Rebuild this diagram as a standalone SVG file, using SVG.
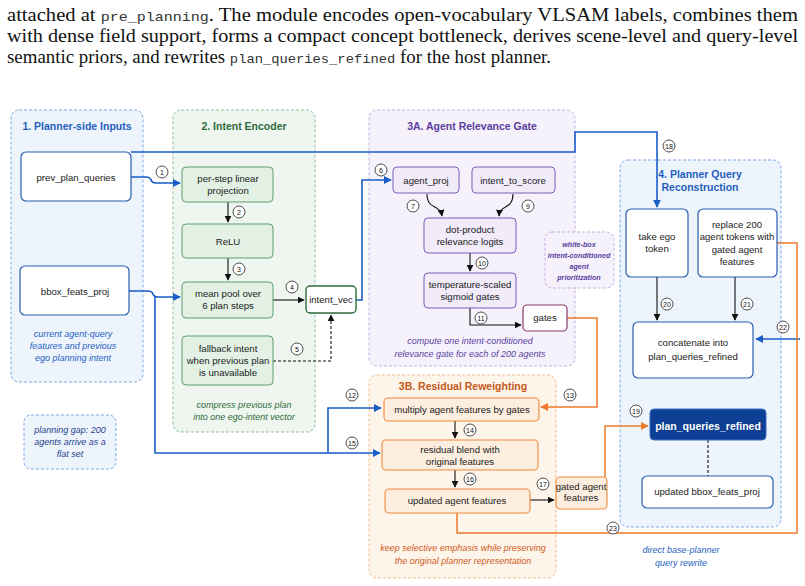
<svg xmlns="http://www.w3.org/2000/svg" width="805" height="586" viewBox="0 0 805 586">
<defs>
<marker id="ak" viewBox="0 0 10 10" refX="9" refY="5" markerWidth="7" markerHeight="7" orient="auto" markerUnits="userSpaceOnUse"><path d="M0,0 L10,5 L0,10 z" fill="#111"/></marker>
<marker id="ab" viewBox="0 0 10 10" refX="9" refY="5" markerWidth="8" markerHeight="8" orient="auto" markerUnits="userSpaceOnUse"><path d="M0,0 L10,5 L0,10 z" fill="#1a5cc8"/></marker>
<marker id="ao" viewBox="0 0 10 10" refX="9" refY="5" markerWidth="8" markerHeight="8" orient="auto" markerUnits="userSpaceOnUse"><path d="M0,0 L10,5 L0,10 z" fill="#ee7a2a"/></marker>
</defs>
<style>
.cap{font-family:"Liberation Serif","Times New Roman",serif;font-size:18.5px;fill:#111}
.mono{font-family:"Liberation Mono","Courier New",monospace;font-size:13.5px;fill:#333}
text{font-family:"Liberation Sans",Arial,sans-serif}
.t{font-size:9.6px;fill:#222;text-anchor:middle}
.ttl{font-size:10.5px;font-weight:bold;text-anchor:middle}
.it{font-size:9px;font-style:italic;text-anchor:middle}
.wb{font-size:7.2px;font-weight:bold;font-style:italic;text-anchor:middle;fill:#5b3ea0}
.pb{fill:#eef4fc;stroke:#6d9fe2;stroke-dasharray:3 2;stroke-width:0.9}
.pg{fill:#eef6ef;stroke:#86bb92;stroke-dasharray:3 2;stroke-width:0.9}
.pp{fill:#f6f2fc;stroke:#bca7e2;stroke-dasharray:3 2;stroke-width:0.9}
.po{fill:#fdf4ea;stroke:#f2b683;stroke-dasharray:3 2;stroke-width:0.9}
.bb{fill:#fff;stroke:#2a5db0;stroke-width:1.2}
.bg{fill:#e3f1e5;stroke:#5f9e6e;stroke-width:1}
.bp{fill:#f1ebfa;stroke:#7d5cb8;stroke-width:1}
.bo{fill:#fdeedf;stroke:#ee8a3c;stroke-width:1.1}
.ck{fill:none;stroke:#111;stroke-width:1.1}
.cb{fill:none;stroke:#1a5cc8;stroke-width:1.6}
.co{fill:none;stroke:#ee7a2a;stroke-width:1.5}
.num circle{fill:#fff;stroke:#222;stroke-width:0.8}
.num text{font-size:7px;fill:#111;text-anchor:middle}
</style>
<rect width="805" height="586" fill="#fff"/>
<g id="caption">
<text class="cap" x="7" y="21" textLength="791" lengthAdjust="spacingAndGlyphs">attached at <tspan class="mono">pre_planning</tspan>. The module encodes open-vocabulary VLSAM labels, combines them</text>
<text class="cap" x="7" y="42" textLength="791" lengthAdjust="spacingAndGlyphs">with dense field support, forms a compact concept bottleneck, derives scene-level and query-level</text>
<text class="cap" x="7" y="63" textLength="544" lengthAdjust="spacingAndGlyphs">semantic priors, and rewrites <tspan class="mono">plan_queries_refined</tspan> for the host planner.</text>
</g>
<g id="panel1">
<rect class="pb" x="11" y="110" width="132" height="272" rx="8"/>
<text class="ttl" x="77" y="130" fill="#1f5fbf">1. Planner-side Inputs</text>
<text class="it" x="73" y="337" fill="#1f5fbf">current agent-query</text>
<text class="it" x="73" y="349" fill="#1f5fbf">features and previous</text>
<text class="it" x="73" y="361" fill="#1f5fbf">ego planning intent</text>
</g>
<g id="panel_gap">
<rect class="pb" x="24" y="415" width="92" height="54" rx="7"/>
<text class="it" x="70" y="433" fill="#24408a">planning gap: 200</text>
<text class="it" x="70" y="445" fill="#24408a">agents arrive as a</text>
<text class="it" x="70" y="457" fill="#24408a">flat set</text>
</g>
<g id="panel2">
<rect class="pg" x="173" y="110" width="142" height="322" rx="8"/>
<text class="ttl" x="244" y="130" fill="#2e6b3a">2. Intent Encoder</text>
<text class="it" x="244" y="408" fill="#2e6b3a">compress previous plan</text>
<text class="it" x="244" y="420" fill="#2e6b3a">into one ego-intent vector</text>
</g>
<g id="panel3a">
<rect class="pp" x="369" y="110" width="206" height="256" rx="8"/>
<text class="ttl" x="472" y="130" fill="#5b3ea0">3A. Agent Relevance Gate</text>
<text class="it" x="470" y="344" fill="#5b3ea0">compute one intent-conditioned</text>
<text class="it" x="470" y="357" fill="#5b3ea0">relevance gate for each of 200 agents</text>
</g>
<g id="panel3b">
<rect class="po" x="369" y="375" width="187" height="203" rx="8"/>
<text class="ttl" x="463" y="390" fill="#c4581c">3B. Residual Reweighting</text>
<text class="it" x="463" y="551" fill="#d05a1a">keep selective emphasis while preserving</text>
<text class="it" x="463" y="564" fill="#d05a1a">the original planner representation</text>
</g>
<g id="panel4">
<rect class="pb" x="620" y="160" width="161" height="367" rx="8"/>
<text class="ttl" x="700" y="178" fill="#1f5fbf">4. Planner Query</text>
<text class="ttl" x="700" y="191" fill="#1f5fbf">Reconstruction</text>
<text class="it" x="681" y="553" fill="#1f5fbf">direct base-planner</text>
<text class="it" x="681" y="566" fill="#1f5fbf">query rewrite</text>
</g>
<g id="note_whitebox">
<rect class="pp" x="545" y="232" width="69" height="56" rx="7"/>
<text class="wb" x="579" y="247">white-box</text>
<text class="wb" x="579" y="258">intent-conditioned</text>
<text class="wb" x="579" y="269">agent</text>
<text class="wb" x="579" y="280">prioritization</text>
</g>
<g id="connectors">
<path class="cb" d="M131,152 H575 V132 H657 V207" marker-end="url(#ab)"/>
<path class="cb" d="M131,177 H146 Q150,177 151,180 Q152,183 156,183 H180" marker-end="url(#ab)"/>
<path class="cb" d="M129,291 H148 Q152,291 153,294 Q154,297 158,297 H180" marker-end="url(#ab)"/>
<path class="cb" d="M155,297 V453 H380" marker-end="url(#ab)"/>
<path class="cb" d="M328,453 V408 H381" marker-end="url(#ab)"/>
<path class="cb" d="M356,300 H362 V180 H391" marker-end="url(#ab)"/>
<path class="cb" d="M800,339 H756" marker-end="url(#ab)"/>
<path class="ck" d="M228,202 V222" marker-end="url(#ak)"/>
<path class="ck" d="M228,258 V280" marker-end="url(#ak)"/>
<path class="ck" d="M273,300 H304" marker-end="url(#ak)"/>
<path class="ck" d="M273,361 H331 V315" stroke-dasharray="3 2" marker-end="url(#ak)"/>
<path class="ck" d="M427,194 C427,210 440,204 442,216" marker-end="url(#ak)"/>
<path class="ck" d="M513,194 C513,210 500,204 499,216" marker-end="url(#ak)"/>
<path class="ck" d="M470,253 V271" marker-end="url(#ak)"/>
<path class="ck" d="M470,308 V325 H521" marker-end="url(#ak)"/>
<path class="ck" d="M455,421 V438" marker-end="url(#ak)"/>
<path class="ck" d="M455,470 V487" marker-end="url(#ak)"/>
<path class="ck" d="M530,500 H554" marker-end="url(#ak)"/>
<path class="ck" d="M657,277 V320" marker-end="url(#ak)"/>
<path class="ck" d="M735,277 V320" marker-end="url(#ak)"/>
<path class="ck" d="M708,440 V476" stroke="#2a4a8a" stroke-dasharray="3 2" stroke-width="0.9"/>
<path class="co" d="M567,318 H597 V407 H541" marker-end="url(#ao)"/>
<path class="co" d="M605,477 V426 H648" marker-end="url(#ao)"/>
<path class="co" d="M457,513 V533 H797 V243 H777"/>
</g>
<g id="prev_plan_queries"><rect class="bb" x="21" y="152" width="110" height="49" rx="5"/><text class="t" x="76" y="181">prev_plan_queries</text></g>
<g id="bbox_feats_proj"><rect class="bb" x="20" y="266" width="109" height="49" rx="5"/><text class="t" x="75" y="295">bbox_feats_proj</text></g>
<g id="per_step"><rect class="bg" x="182" y="167" width="91" height="35" rx="4"/><text class="t" x="228" y="182">per-step linear</text><text class="t" x="228" y="194">projection</text></g>
<g id="relu"><rect class="bg" x="182" y="224" width="91" height="34" rx="4"/><text class="t" x="228" y="245">ReLU</text></g>
<g id="mean_pool"><rect class="bg" x="182" y="282" width="91" height="36" rx="4"/><text class="t" x="228" y="297">mean pool over</text><text class="t" x="228" y="309">6 plan steps</text></g>
<g id="fallback"><rect class="bg" x="182" y="336" width="91" height="49" rx="4"/><text class="t" x="228" y="352">fallback intent</text><text class="t" x="228" y="364">when previous plan</text><text class="t" x="228" y="376">is unavailable</text></g>
<g id="intent_vec"><rect x="306" y="286" width="50" height="27" rx="4" fill="#fff" stroke="#2e6b3a" stroke-width="1.4"/><text class="t" x="331" y="303">intent_vec</text></g>
<g id="agent_proj"><rect class="bp" x="393" y="167" width="66" height="26" rx="4"/><text class="t" x="426" y="184">agent_proj</text></g>
<g id="intent_to_score"><rect class="bp" x="472" y="167" width="83" height="26" rx="4"/><text class="t" x="513" y="184">intent_to_score</text></g>
<g id="dot_product"><rect class="bp" x="424" y="218" width="92" height="35" rx="4"/><text class="t" x="470" y="233">dot-product</text><text class="t" x="470" y="245">relevance logits</text></g>
<g id="temp_sigmoid"><rect class="bp" x="424" y="273" width="92" height="35" rx="4"/><text class="t" x="470" y="288">temperature-scaled</text><text class="t" x="470" y="300">sigmoid gates</text></g>
<g id="gates"><rect x="523" y="305" width="44" height="26" rx="4" fill="#fff" stroke="#8a3a6a" stroke-width="1.2"/><text class="t" x="545" y="321">gates</text></g>
<g id="multiply"><rect class="bo" x="384" y="398" width="155" height="23" rx="4"/><text class="t" x="462" y="413">multiply agent features by gates</text></g>
<g id="residual"><rect class="bo" x="382" y="440" width="156" height="30" rx="4"/><text class="t" x="460" y="453">residual blend with</text><text class="t" x="460" y="465">original features</text></g>
<g id="updated_agent"><rect class="bo" x="385" y="489" width="145" height="24" rx="4"/><text class="t" x="457" y="504">updated agent features</text></g>
<g id="gated_agent"><rect class="bo" x="556" y="477" width="51" height="32" rx="4"/><text class="t" x="581" y="490" font-size="7.8">gated agent</text><text class="t" x="581" y="501" font-size="7.8">features</text></g>
<g id="take_ego"><rect class="bb" x="626" y="209" width="62" height="68" rx="5"/><text class="t" x="657" y="240">take ego</text><text class="t" x="657" y="252">token</text></g>
<g id="replace"><rect class="bb" x="698" y="209" width="79" height="68" rx="5"/><text class="t" x="737" y="228">replace 200</text><text class="t" x="737" y="240">agent tokens with</text><text class="t" x="737" y="253">gated agent</text><text class="t" x="737" y="265">features</text></g>
<g id="concatenate"><rect class="bb" x="633" y="322" width="120" height="56" rx="5"/><text class="t" x="693" y="346">concatenate into</text><text class="t" x="693" y="360">plan_queries_refined</text></g>
<g id="plan_queries_refined"><rect x="650" y="409" width="116" height="31" rx="4" fill="#0d3f94" stroke="#3a6fc8" stroke-width="1"/><text x="708" y="430" font-size="10.5" font-weight="bold" fill="#fff" text-anchor="middle">plan_queries_refined</text></g>
<g id="updated_bbox"><rect class="bb" x="642" y="476" width="131" height="32" rx="5"/><text class="t" x="707" y="495">updated bbox_feats_proj</text></g>
<g id="labels">
<g class="num"><circle cx="162" cy="172" r="6"/><text x="162" y="174.5">1</text></g>
<g class="num"><circle cx="239" cy="212" r="6"/><text x="239" y="214.5">2</text></g>
<g class="num"><circle cx="239" cy="269" r="6"/><text x="239" y="271.5">3</text></g>
<g class="num"><circle cx="292" cy="287" r="6"/><text x="292" y="289.5">4</text></g>
<g class="num"><circle cx="297" cy="349" r="6"/><text x="297" y="351.5">5</text></g>
<g class="num"><circle cx="381" cy="170" r="6"/><text x="381" y="172.5">6</text></g>
<g class="num"><circle cx="413" cy="206" r="6"/><text x="413" y="208.5">7</text></g>
<g class="num"><circle cx="528" cy="206" r="6"/><text x="528" y="208.5">9</text></g>
<g class="num"><circle cx="482" cy="263" r="6"/><text x="482" y="265.5">10</text></g>
<g class="num"><circle cx="481" cy="318" r="6"/><text x="481" y="320.5">11</text></g>
<g class="num"><circle cx="352" cy="395" r="6"/><text x="352" y="397.5">12</text></g>
<g class="num"><circle cx="570" cy="395" r="6"/><text x="570" y="397.5">13</text></g>
<g class="num"><circle cx="470" cy="430" r="6"/><text x="470" y="432.5">14</text></g>
<g class="num"><circle cx="352" cy="443" r="6"/><text x="352" y="445.5">15</text></g>
<g class="num"><circle cx="470" cy="479" r="6"/><text x="470" y="481.5">16</text></g>
<g class="num"><circle cx="543" cy="484" r="6"/><text x="543" y="486.5">17</text></g>
<g class="num"><circle cx="669" cy="146" r="6"/><text x="669" y="148.5">18</text></g>
<g class="num"><circle cx="636" cy="411" r="6"/><text x="636" y="413.5">19</text></g>
<g class="num"><circle cx="667" cy="304" r="6"/><text x="667" y="306.5">20</text></g>
<g class="num"><circle cx="747" cy="304" r="6"/><text x="747" y="306.5">21</text></g>
<g class="num"><circle cx="783" cy="327" r="6"/><text x="783" y="329.5">22</text></g>
<g class="num"><circle cx="613" cy="528" r="6"/><text x="613" y="530.5">23</text></g>
</g>
</svg>
